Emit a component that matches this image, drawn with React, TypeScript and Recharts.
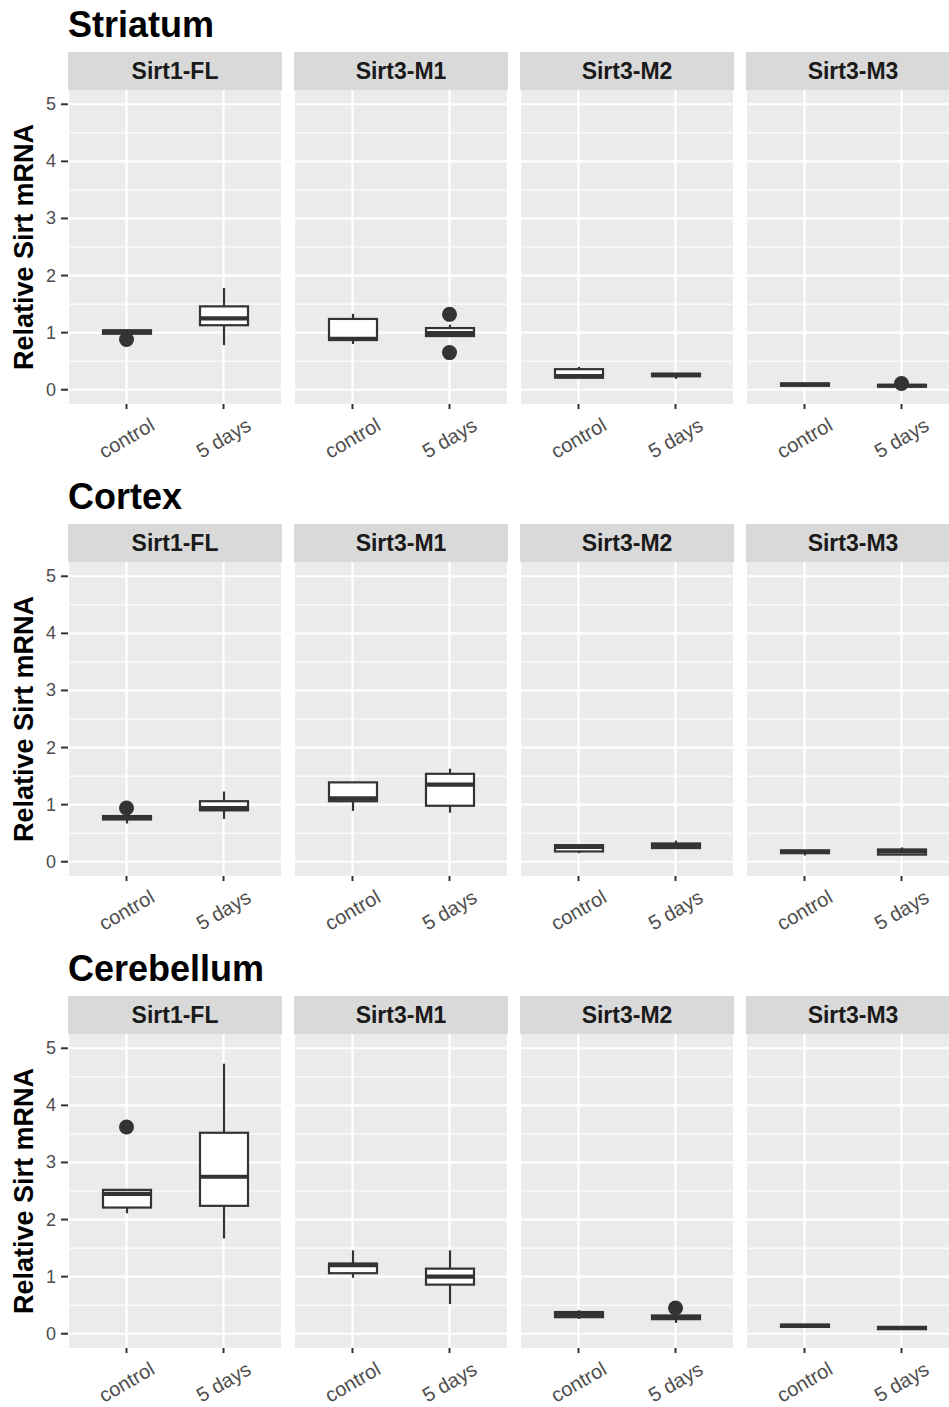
import React from 'react';
import { ComposedChart, Bar, Scatter, XAxis, YAxis, CartesianGrid } from 'recharts';

const regions = ['Striatum', 'Cortex', 'Cerebellum'];
const genes = ['Sirt1-FL', 'Sirt3-M1', 'Sirt3-M2', 'Sirt3-M3'];
const conditions = ['control', '5 days'];
const yTicks = [0, 1, 2, 3, 4, 5];
const yMinor = [0.5, 1.5, 2.5, 3.5, 4.5];

// [min, q1, median, q3, max] per gene, as [control, 5 days]
const striatumBoxes = [
  [[0.98, 0.98, 1.02, 1.04, 1.05], [0.78, 1.13, 1.25, 1.46, 1.78]],
  [[0.8, 0.87, 0.89, 1.24, 1.33], [0.93, 0.94, 0.99, 1.08, 1.14]],
  [[0.21, 0.21, 0.24, 0.36, 0.4], [0.19, 0.235, 0.26, 0.28, 0.29]],
  [[0.065, 0.07, 0.09, 0.11, 0.115], [0.05, 0.055, 0.07, 0.085, 0.09]],
];
const striatumOutliers = [
  [[0.88], []],
  [[], [1.32, 0.65]],
  [[], []],
  [[], [0.11]],
];

const cortexBoxes = [
  [[0.67, 0.74, 0.77, 0.8, 0.81], [0.75, 0.9, 0.94, 1.06, 1.23]],
  [[0.89, 1.06, 1.11, 1.39, 1.395], [0.86, 0.98, 1.35, 1.54, 1.63]],
  [[0.15, 0.18, 0.26, 0.29, 0.295], [0.23, 0.24, 0.28, 0.32, 0.37]],
  [[0.11, 0.15, 0.17, 0.2, 0.2], [0.12, 0.125, 0.18, 0.215, 0.25]],
];
const cortexOutliers = [
  [[0.94], []],
  [[], []],
  [[], []],
  [[], []],
];

const cerebellumBoxes = [
  [[2.11, 2.21, 2.45, 2.52, 2.53], [1.67, 2.24, 2.75, 3.52, 4.73]],
  [[0.98, 1.06, 1.2, 1.23, 1.46], [0.52, 0.86, 1.0, 1.14, 1.46]],
  [[0.26, 0.29, 0.34, 0.38, 0.41], [0.19, 0.255, 0.29, 0.32, 0.33]],
  [[0.11, 0.12, 0.14, 0.16, 0.165], [0.07, 0.08, 0.1, 0.12, 0.125]],
];
const cerebellumOutliers = [
  [[3.62], []],
  [[], []],
  [[], [0.45]],
  [[], []],
];

const boxesByRegion = [striatumBoxes, cortexBoxes, cerebellumBoxes];
const outliersByRegion = [striatumOutliers, cortexOutliers, cerebellumOutliers];

const INK = '#333333';
const PANEL_W = 214;
const PANEL_STEP = 226;
const LEFT = 68;
const PLOT_H = 314;
const XAXIS_H = 70;
const ROW_H = 472;

const BoxShape = (props: any) => {
  const { x, y, width, height } = props;
  const p = props.payload ?? props;
  const span = p.max - p.min;
  const toY = (v: number) => y + ((p.max - v) / span) * height;
  const cx = x + width / 2;
  const half = 24;
  return (
    <g>
      <line x1={cx} x2={cx} y1={toY(p.max)} y2={toY(p.q3)} stroke={INK} strokeWidth={2.2} />
      <line x1={cx} x2={cx} y1={toY(p.q1)} y2={toY(p.min)} stroke={INK} strokeWidth={2.2} />
      <rect x={cx - half} y={toY(p.q3)} width={half * 2} height={toY(p.q1) - toY(p.q3)} fill="#FFFFFF" stroke={INK} strokeWidth={2.2} />
      <line x1={cx - half} x2={cx + half} y1={toY(p.med)} y2={toY(p.med)} stroke={INK} strokeWidth={4.2} />
    </g>
  );
};

const makeDot = (key: string) => (props: any) => {
  const v = props.payload ? props.payload[key] : null;
  if (v == null || props.cx == null || props.cy == null) return <g />;
  return <circle cx={props.cx} cy={props.cy} r={7.5} fill={INK} />;
};
const Dot1 = makeDot('o1');
const Dot2 = makeDot('o2');

const XTick = (props: any) => {
  const { x, y, payload } = props;
  const ty = y + 27;
  return (
    <text x={x} y={ty} textAnchor="middle" dominantBaseline="central" fontSize={20} fill="#4D4D4D" transform={`rotate(-30 ${x} ${ty})`}>
      {payload.value}
    </text>
  );
};

const YTick = (props: any) => {
  const { x, y, payload } = props;
  return (
    <text x={x} y={y} textAnchor="end" dominantBaseline="central" fontSize={18} fill="#4D4D4D">
      {payload.value}
    </text>
  );
};

function Panel({ region, gene }: { region: number; gene: number }) {
  const boxes = boxesByRegion[region][gene];
  const outs = outliersByRegion[region][gene];
  const data = conditions.map((c, i) => {
    const [min, q1, med, q3, max] = boxes[i];
    return {
      cond: c,
      range: [min, max],
      min, q1, med, q3, max,
      o1: outs[i][0] ?? null,
      o2: outs[i][1] ?? null,
    };
  });
  const first = gene === 0;
  return (
    <ComposedChart
      width={first ? LEFT + PANEL_W : PANEL_W}
      height={PLOT_H + XAXIS_H}
      data={data}
      margin={{ top: 0, right: 0, bottom: 0, left: 0 }}
    >
      <CartesianGrid fill="#EBEBEB" fillOpacity={1} stroke="#FFFFFF" strokeWidth={1.1} vertical={false} horizontalValues={yMinor} />
      <CartesianGrid stroke="#FFFFFF" strokeWidth={2.2} horizontalValues={yTicks} />
      <XAxis
        dataKey="cond"
        type="category"
        padding={{ left: 10, right: 10 }}
        height={XAXIS_H}
        axisLine={false}
        tickLine={{ stroke: INK, strokeWidth: 2 }}
        tickSize={5}
        tickMargin={2}
        tick={<XTick />}
        interval={0}
      />
      <YAxis
        type="number"
        domain={[-0.25, 5.25]}
        allowDataOverflow
        ticks={yTicks}
        hide={!first}
        width={LEFT}
        axisLine={false}
        tickLine={{ stroke: INK, strokeWidth: 2 }}
        tickSize={7}
        tickMargin={5}
        tick={<YTick />}
        label={
          first
            ? {
                value: 'Relative Sirt mRNA',
                angle: -90,
                position: 'insideLeft',
                offset: 23,
                style: { textAnchor: 'middle', fontWeight: 'bold', fontSize: 27, fill: '#000000' },
              }
            : undefined
        }
      />
      <Bar dataKey="range" barSize={48} shape={BoxShape} isAnimationActive={false} />
      <Scatter dataKey="o1" shape={Dot1} isAnimationActive={false} />
      <Scatter dataKey="o2" shape={Dot2} isAnimationActive={false} />
    </ComposedChart>
  );
}

export default function App() {
  return (
    <div
      style={{
        position: 'absolute',
        left: 0,
        top: 0,
        width: 949,
        height: 1407,
        overflow: 'hidden',
        background: '#FFFFFF',
        fontFamily: "'Liberation Sans', Arial, sans-serif",
      }}
    >
      {regions.map((r, ri) => (
        <div key={r}>
          <div
            style={{
              position: 'absolute',
              left: LEFT,
              top: 7 + ri * ROW_H,
              fontSize: 36,
              lineHeight: '35px',
              fontWeight: 'bold',
              color: '#000000',
            }}
          >
            {r}
          </div>
          {genes.map((g, gi) => (
            <div key={g}>
              <div
                style={{
                  position: 'absolute',
                  left: LEFT + gi * PANEL_STEP,
                  top: 52 + ri * ROW_H,
                  width: PANEL_W,
                  height: 38,
                  background: '#D9D9D9',
                  display: 'flex',
                  alignItems: 'center',
                  justifyContent: 'center',
                  fontSize: 23,
                  fontWeight: 'bold',
                  color: '#1A1A1A',
                }}
              >
                {g}
              </div>
              <div
                style={{
                  position: 'absolute',
                  left: gi === 0 ? 0 : LEFT + gi * PANEL_STEP,
                  top: 90 + ri * ROW_H,
                }}
              >
                <Panel region={ri} gene={gi} />
              </div>
            </div>
          ))}
        </div>
      ))}
    </div>
  );
}
